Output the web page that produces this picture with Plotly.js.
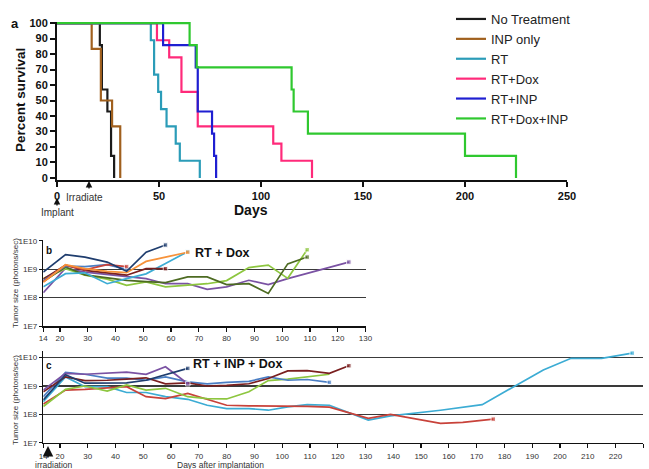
<!DOCTYPE html>
<html>
<head>
<meta charset="utf-8">
<script src="https://cdn.plot.ly/plotly-3.0.1.min.js"></script>
<style>html,body{margin:0;padding:0;background:#fff;}#chart{width:649px;height:469px;}</style>
</head>
<body>
<div id="chart"></div>
<script>
// ---------- Panel a: Kaplan-Meier survival ----------
const survivalGroups = ['No Treatment', 'INP only', 'RT', 'RT+Dox', 'RT+INP', 'RT+Dox+INP'];
const noTxDays = [0, 21, 22, 24.7, 26.5, 28];
const noTxSurv = [100, 85.7, 57.1, 42.9, 14.3, 0];
const inpDays = [0, 17, 21.5, 27, 31];
const inpSurv = [100, 83.3, 50, 33.3, 0];
const rtDays = [0, 46, 47.6, 49.6, 51, 53.7, 58.2, 60.2, 70];
const rtSurv = [100, 88.9, 66.7, 55.6, 44.4, 33.3, 22.2, 11.1, 0];
const rtDoxDays = [0, 49, 55, 61, 69, 106, 110, 125];
const rtDoxSurv = [100, 88.9, 77.8, 55.6, 33.3, 22.2, 11.1, 0];
const rtInpDays = [0, 52, 68, 69, 76, 77, 78];
const rtInpSurv = [100, 85.7, 71.4, 42.9, 28.6, 14.3, 0];
const rtDoxInpDays = [0, 65, 68.5, 115, 116, 123, 200, 225];
const rtDoxInpSurv = [100, 85.7, 71.4, 57.1, 42.9, 28.6, 14.3, 0];
const survTicksX = [0, 50, 100, 150, 200, 250];
const survTicksY = [0, 10, 20, 30, 40, 50, 60, 70, 80, 90, 100];

// ---------- Panel b: RT + Dox tumor size (photons/sec) ----------
const bNavyDays = [14, 22, 29, 37, 44, 51, 58];
const bNavyVals = [7.9e8, 3.3e9, 2.7e9, 1.8e9, 8.5e8, 4.0e9, 7.2e9];
const bOrangeDays = [14, 22, 29, 37, 44, 51, 58, 66];
const bOrangeVals = [3.5e8, 1.45e9, 1.05e9, 8.5e8, 7.6e8, 1.9e9, 2.7e9, 4.0e9];
const bCyanDays = [14, 22, 29, 37, 44, 51, 58, 66];
const bCyanVals = [2.4e8, 7.0e8, 7.5e8, 3.1e8, 4.7e8, 6.9e8, 1.6e9, 4.2e9];
const bRedDays = [14, 22, 29, 37, 44];
const bRedVals = [3.7e8, 1.4e9, 9.5e8, 1.45e9, 1.25e9];
const bSteelDays = [14, 22, 29, 37, 44];
const bSteelVals = [4.0e8, 1.3e9, 1.25e9, 1.45e9, 1.0e9];
const bMaroonDays = [14, 22, 29, 37, 44, 51, 58];
const bMaroonVals = [4.5e8, 1.4e9, 9.2e8, 7.6e8, 6.2e8, 1.05e9, 1.05e9];
const bOliveDays = [14, 22, 29, 37, 44, 51, 58, 66, 73, 80, 88, 95, 102, 109];
const bOliveVals = [3.7e8, 1.2e9, 6.4e8, 4.9e8, 4.1e8, 3.7e8, 3.4e8, 5.4e8, 5.4e8, 2.9e8, 3.1e8, 1.4e8, 1.55e9, 2.7e9];
const bLimeDays = [14, 22, 29, 37, 44, 51, 58, 66, 73, 80, 88, 95, 102, 109];
const bLimeVals = [4.7e8, 1.05e9, 6.2e8, 4.5e8, 2.7e8, 3.6e8, 2.4e8, 2.7e8, 3.1e8, 4.0e8, 1.15e9, 1.4e9, 4.8e8, 4.9e9];
const bPurpleDays = [14, 22, 29, 37, 44, 51, 58, 66, 73, 80, 88, 95, 102, 124];
const bPurpleVals = [1.5e8, 1.1e9, 8.0e8, 6.5e8, 5.4e8, 4.7e8, 3.1e8, 3.1e8, 1.95e8, 2.4e8, 4.1e8, 2.9e8, 4.7e8, 1.8e9];
const bTicksX = [14, 20, 30, 40, 50, 60, 70, 80, 90, 100, 110, 120, 130];

// ---------- Panel c: RT + INP + Dox tumor size (photons/sec) ----------
const cNavyDays = [14, 22, 29, 37, 44, 51, 58, 66];
const cNavyVals = [3.2e8, 2.5e9, 1.26e9, 1.26e9, 1.3e9, 1.6e9, 2.5e9, 4.2e9];
const cPurpleDays = [14, 22, 29, 37, 44, 51, 58, 66];
const cPurpleVals = [7.2e8, 2.8e9, 2.6e9, 2.8e9, 3.1e9, 2.6e9, 4.8e9, 1.2e9];
const cSteelDays = [14, 22, 29, 37, 44, 51, 58, 66, 73, 80, 88, 95, 102, 109, 117];
const cSteelVals = [4.2e8, 3.0e9, 2.6e9, 1.9e9, 1.9e9, 1.6e9, 2.1e9, 1.4e9, 1.2e9, 1.35e9, 1.45e9, 2.1e9, 1.6e9, 1.7e9, 1.35e9];
const cMaroonDays = [14, 22, 29, 37, 44, 51, 58, 66, 73, 80, 88, 95, 102, 109, 117, 124];
const cMaroonVals = [6.3e8, 2.1e9, 1.55e9, 1.6e9, 1.75e9, 1.95e9, 1.2e9, 1.3e9, 1.0e9, 1.05e9, 1.2e9, 1.85e9, 3.4e9, 3.5e9, 2.8e9, 5.2e9];
const cLimeDays = [14, 22, 29, 37, 44, 51, 58, 66, 73, 80, 88, 95, 102, 109, 117];
const cLimeVals = [1.9e8, 7.6e8, 1.0e9, 6.6e8, 1.1e9, 7.2e8, 8.3e8, 4.2e8, 3.6e8, 3.5e8, 6.3e8, 1.55e9, 1.75e9, 2.1e9, 2.6e9];
const cRedDays = [14, 22, 29, 37, 44, 51, 58, 66, 73, 80, 88, 95, 102, 109, 117, 131, 139, 157, 165, 176];
const cRedVals = [2.3e8, 7.2e8, 7.6e8, 8.3e8, 9.5e8, 4.2e8, 3.6e8, 5.5e8, 3.3e8, 2.1e8, 2.0e8, 2.0e8, 2.0e8, 1.9e8, 1.8e8, 7.2e7, 1.0e8, 4.8e7, 5.2e7, 6.8e7];
const cCyanDays = [14, 22, 29, 37, 44, 51, 58, 66, 73, 80, 88, 95, 102, 109, 117, 131, 139, 157, 172, 194, 204, 215, 226];
const cCyanVals = [2.8e8, 2.1e9, 9.5e8, 9.5e8, 5.9e8, 5.9e8, 4.2e8, 3.4e8, 2.1e8, 1.6e8, 1.6e8, 1.4e8, 1.85e8, 2.2e8, 2.1e8, 6.3e7, 8.9e7, 1.4e8, 2.2e8, 3.7e9, 9.5e9, 9.5e9, 1.45e10];
const cTicksX = [14, 20, 30, 40, 50, 60, 70, 80, 90, 100, 110, 120, 130, 140, 150, 160, 170, 180, 190, 200, 210, 220, 230];
const logTickVals = [1e7, 1e8, 1e9, 1e10];
const logTickText = ['1E7', '1E8', '1E9', '1E10'];

// ---------- styling ----------
const W = 649, H = 469;
const FONT = 'Liberation Sans, Arial, Helvetica, sans-serif';
const px = x => x / W;
const py = y => 1 - y / H;

const survColors = ['#1b1b1b', '#a0601e', '#2b9cb8', '#ff2a7a', '#1f1fd1', '#2fc82f'];
const survData = [
  [noTxDays, noTxSurv], [inpDays, inpSurv], [rtDays, rtSurv],
  [rtDoxDays, rtDoxSurv], [rtInpDays, rtInpSurv], [rtDoxInpDays, rtDoxInpSurv]
];

const traces = [];
survData.forEach((d, i) => {
  traces.push({
    type: 'scatter', mode: 'lines', x: d[0], y: d[1],
    name: survivalGroups[i], xaxis: 'x', yaxis: 'y',
    line: {shape: 'hv', color: survColors[i], width: 2.2},
    showlegend: true, hoverinfo: 'skip'
  });
});

function endSizes(arr, s) { return arr.map((v, i) => i === arr.length - 1 ? s : 0); }
function tumorTrace(days, vals, color, ax, yax, markEnd) {
  return {
    type: 'scatter', mode: markEnd ? 'lines+markers' : 'lines', x: days, y: vals,
    xaxis: ax, yaxis: yax, showlegend: false, hoverinfo: 'skip',
    line: {color: color, width: 1.7},
    marker: {symbol: 'square', color: color, size: endSizes(vals, 4.5)}
  };
}
const C = {navy: '#1f3d6e', orange: '#f7923a', cyan: '#3cacd4', red: '#c8423a', steel: '#4a7ec4',
           maroon: '#7a1f1f', olive: '#4d6b22', lime: '#8dc63f', purple: '#7a52a3'};

traces.push(tumorTrace(bPurpleDays, bPurpleVals, C.purple, 'x2', 'y2', true));
traces.push(tumorTrace(bLimeDays, bLimeVals, C.lime, 'x2', 'y2', true));
traces.push(tumorTrace(bOliveDays, bOliveVals, C.olive, 'x2', 'y2', true));
traces.push(tumorTrace(bCyanDays, bCyanVals, C.cyan, 'x2', 'y2', true));
traces.push(tumorTrace(bMaroonDays, bMaroonVals, C.maroon, 'x2', 'y2', true));
traces.push(tumorTrace(bSteelDays, bSteelVals, C.steel, 'x2', 'y2', true));
traces.push(tumorTrace(bRedDays, bRedVals, C.red, 'x2', 'y2', true));
traces.push(tumorTrace(bOrangeDays, bOrangeVals, C.orange, 'x2', 'y2', true));
traces.push(tumorTrace(bNavyDays, bNavyVals, C.navy, 'x2', 'y2', true));

traces.push(tumorTrace(cCyanDays, cCyanVals, C.cyan, 'x3', 'y3', true));
traces.push(tumorTrace(cRedDays, cRedVals, C.red, 'x3', 'y3', true));
traces.push(tumorTrace(cLimeDays, cLimeVals, C.lime, 'x3', 'y3', false));
traces.push(tumorTrace(cSteelDays, cSteelVals, C.steel, 'x3', 'y3', true));
traces.push(tumorTrace(cMaroonDays, cMaroonVals, C.maroon, 'x3', 'y3', true));
traces.push(tumorTrace(cPurpleDays, cPurpleVals, C.purple, 'x3', 'y3', true));
traces.push(tumorTrace(cNavyDays, cNavyVals, C.navy, 'x3', 'y3', true));

const smallTick = {family: FONT, size: 8, color: '#333'};
const boldTick = {family: FONT, size: 11, color: '#111', weight: 'bold'};

const layout = {
  width: W, height: H,
  margin: {l: 0, r: 0, t: 0, b: 0},
  paper_bgcolor: '#fff', plot_bgcolor: 'rgba(0,0,0,0)',
  font: {family: FONT, color: '#111'},
  showlegend: true,
  legend: {x: px(451), y: py(4), xanchor: 'left', yanchor: 'top',
           font: {family: FONT, size: 13, color: '#222'}, bgcolor: 'rgba(0,0,0,0)', itemwidth: 30},
  xaxis: {domain: [px(57), px(567)], range: [0, 250], anchor: 'y',
          tickvals: survTicksX, showline: true, linecolor: '#111', linewidth: 2,
          ticks: 'outside', ticklen: 5, tickwidth: 2, tickcolor: '#111',
          tickfont: boldTick, showgrid: false, zeroline: false, fixedrange: true},
  yaxis: {domain: [py(179.5), py(21.5)], range: [-1, 101], anchor: 'x',
          tickvals: survTicksY, showline: true, linecolor: '#111', linewidth: 2,
          ticks: 'outside', ticklen: 5, tickwidth: 2, tickcolor: '#111',
          tickfont: boldTick, showgrid: false, zeroline: false, fixedrange: true},
  xaxis2: {domain: [px(43.3), px(365.5)], range: [14, 130], anchor: 'y2',
           tickvals: bTicksX, showline: true, linecolor: '#111', linewidth: 1.5,
           ticks: 'outside', ticklen: 4, tickwidth: 1.2, tickcolor: '#111',
           tickfont: smallTick, showgrid: false, zeroline: false},
  yaxis2: {type: 'log', domain: [py(326), py(240.1)], range: [7, 10.03], anchor: 'x2',
           tickvals: logTickVals, ticktext: logTickText, showline: true, linecolor: '#111', linewidth: 1.5,
           ticks: 'outside', ticklen: 3, tickwidth: 1, tickcolor: '#111',
           tickfont: smallTick, showgrid: true, gridcolor: '#3a3a3a', gridwidth: 1.3, zeroline: false},
  xaxis3: {domain: [px(43.3), px(643.3)], range: [14, 230], anchor: 'y3',
           tickvals: cTicksX, showline: true, linecolor: '#111', linewidth: 1.5,
           ticks: 'outside', ticklen: 4, tickwidth: 1.2, tickcolor: '#111', ticklabelstandoff: 1,
           tickfont: smallTick, showgrid: false, zeroline: false},
  yaxis3: {type: 'log', domain: [py(442.7), py(350.6)], range: [7, 10.25], anchor: 'x3',
           tickvals: logTickVals, ticktext: logTickText, showline: true, linecolor: '#111', linewidth: 1.5,
           ticks: 'outside', ticklen: 3, tickwidth: 1, tickcolor: '#111',
           tickfont: smallTick, showgrid: true, gridcolor: '#3a3a3a', gridwidth: 1.3, zeroline: false},
  shapes: [
    {type: 'line', xref: 'x3', yref: 'y3', x0: 14, x1: 230, y0: 8, y1: 8,
     line: {color: '#8a8a8a', width: 2.4}, layer: 'below'}
  ],
  annotations: [
    {text: 'a', x: px(15), y: py(24), font: {size: 13, weight: 'bold'}},
    {text: 'Percent survival', x: px(20), y: py(100), textangle: -90, font: {size: 13.5, weight: 'bold'}},
    {text: 'Days', x: px(251), y: py(210), font: {size: 14, weight: 'bold'}},
    {text: 'Implant', x: px(57), y: py(212), font: {size: 10, color: '#333'}},
    {text: '', x: px(57), y: py(198), showarrow: true, ax: 0, ay: 9, arrowhead: 2, arrowsize: 1, arrowwidth: 1.3, arrowcolor: '#111'},
    {text: 'Irradiate', x: px(84), y: py(197), font: {size: 10, color: '#333'}},
    {text: '', x: px(89), y: py(181), showarrow: true, ax: 0, ay: 9, arrowhead: 2, arrowsize: 1, arrowwidth: 1.3, arrowcolor: '#111'},

    {text: 'b', x: px(49), y: py(250), font: {size: 10, weight: 'bold'}},
    {text: 'RT + Dox', x: px(222), y: py(253), font: {size: 12.5, weight: 'bold'}},
    {text: 'Tumor size (photons/sec)', x: px(15), y: py(283), textangle: -90, font: {size: 8, color: '#333'}},

    {text: 'c', x: px(49), y: py(365), font: {size: 10, weight: 'bold'}},
    {text: 'RT + INP + Dox', x: px(237), y: py(364), font: {size: 12.5, weight: 'bold'}},
    {text: 'Tumor size (photons/sec)', x: px(15), y: py(400), textangle: -90, font: {size: 8, color: '#333'}},
    {text: 'irradiation', x: px(54), y: py(464.5), font: {size: 8.5, color: '#333'}},
    {text: '', x: px(48), y: py(446), showarrow: true, ax: 0, ay: 13, arrowhead: 2, arrowsize: 1.4, arrowwidth: 1.5, arrowcolor: '#111'},
    {text: 'Days after implantation', x: px(220), y: py(464.5), font: {size: 8.5, color: '#333'}}
  ].map(a => Object.assign({xref: 'paper', yref: 'paper', showarrow: false, xanchor: 'center', yanchor: 'middle'}, a,
        {font: Object.assign({family: FONT, color: '#111'}, a.font || {})}))
};

Plotly.newPlot('chart', traces, layout, {staticPlot: true, displayModeBar: false});
</script>
</body>
</html>
